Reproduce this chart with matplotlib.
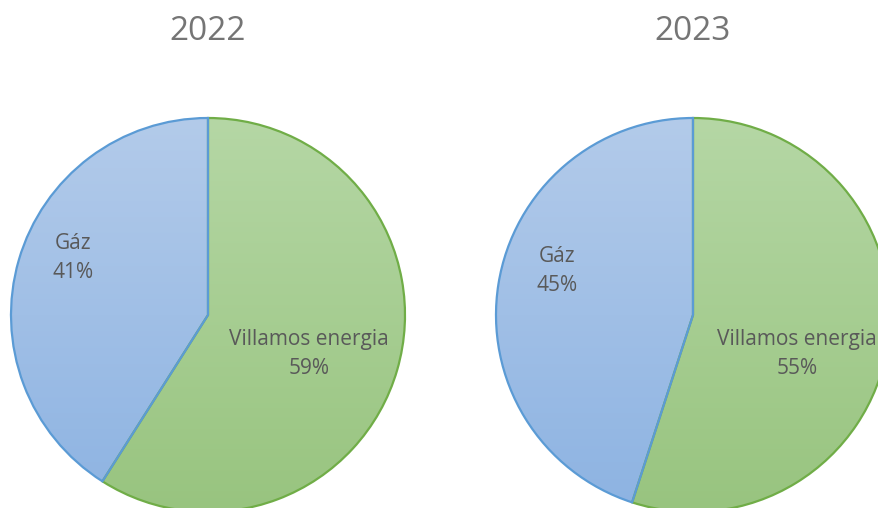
import numpy as np
import matplotlib
matplotlib.use("Agg")
import matplotlib.pyplot as plt
from matplotlib.colors import LinearSegmentedColormap

years = ["2022", "2023"]
categories = ["Villamos energia", "Gáz"]
shares = [[59, 41], [55, 45]]

W, H = 879, 508
fig = plt.figure(figsize=(W / 100, H / 100), dpi=100)
ax = fig.add_axes([0, 0, 1, 1])
ax.set_xlim(0, W)
ax.set_ylim(0, H)

R = 197
centers = [(208, H - 315), (693, H - 315)]
grad = {
    "Villamos energia": ("#b5d7a5", "#98c47f"),
    "Gáz": ("#b3cbea", "#8db3e2"),
}
edges = {"Villamos energia": "#70ad47", "Gáz": "#5b9bd5"}

label_off = {
    "Villamos energia": [(101, -39), (104, -39)],
    "Gáz": [(-135, 57), (-136, 44)],
}

for i, (yr, vals) in enumerate(zip(years, shares)):
    cx, cy = centers[i]
    wedges, _ = ax.pie(vals, startangle=90, counterclock=False, center=(cx, cy),
                       radius=R, frame=True,
                       wedgeprops=dict(linewidth=1.6, facecolor="none"))
    for w, cat in zip(wedges, categories):
        w.set_edgecolor(edges[cat])
        w.set_zorder(3)
        top, bot = grad[cat]
        cmap = LinearSegmentedColormap.from_list("g", [bot, top])
        g = np.linspace(0, 1, 256).reshape(-1, 1)
        im = ax.imshow(g, cmap=cmap, origin="lower", aspect="auto",
                       extent=[cx - R, cx + R, cy - R, cy + R], zorder=1,
                       interpolation="bilinear")
        im.set_clip_path(w)
    for cat, v in zip(categories, vals):
        dx, dy = label_off[cat][i]
        ax.text(cx + dx, cy + dy, f"{cat}\n{v}%", ha="center", va="center",
                fontsize=15, color="#595959", family="Open Sans",
                linespacing=1.55, zorder=5)
    ax.text(cx, H - 32, yr, ha="center", va="center", fontsize=24,
            color="#757575", family="Open Sans", zorder=5)

ax.set_xlim(0, W)
ax.set_ylim(0, H)
ax.set_aspect("auto")
ax.set_axis_off()
fig.savefig("out.png", dpi=100)
